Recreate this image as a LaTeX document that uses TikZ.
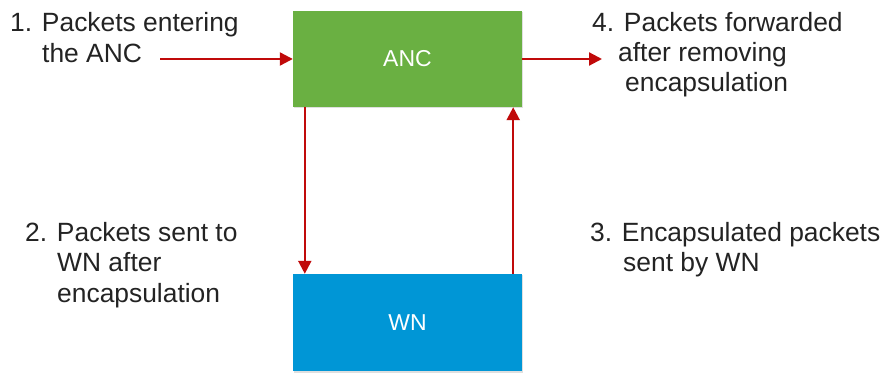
\documentclass[tikz,border=0pt]{standalone}
\usepackage{fontspec}
\setmainfont{Liberation Sans}
\usetikzlibrary{arrows.meta,shadows,calc}
\definecolor{ancgreen}{RGB}{106,176,66}
\definecolor{wnblue}{RGB}{0,150,214}
\definecolor{flowred}{RGB}{192,10,10}
\definecolor{labeltext}{RGB}{35,35,35}
\tikzset{
  unitbox/.style={draw=none, minimum width=229pt, inner sep=0pt,
    font=\fontsize{23}{27}\selectfont, text=white,
    drop shadow={shadow xshift=1pt, shadow yshift=-1.5pt, opacity=0.25}},
  flow/.style={draw=flowred, line width=2.2pt,
    -{Triangle[length=13pt,width=13pt]}},
  caption/.style={anchor=base west, inner sep=0pt, text=labeltext,
    font=\fontsize{26.4}{30}\selectfont},
}
\begin{document}
\begin{tikzpicture}[x=1pt,y=-1pt]
  \useasboundingbox (0,0) rectangle (884,374);
  % the two units
  \node[unitbox, fill=ancgreen, minimum height=96pt] (anc) at (407.5,59) {ANC};
  \node[unitbox, fill=wnblue, minimum height=97pt] (wn) at (407.5,322.5) {WN};
  % packet flow
  \coordinate (in) at (160,59);
  \coordinate (out) at (602,59);
  \draw[flow] (in) -- (anc.west);
  \draw[flow] (anc.east) -- (out);
  \draw[flow] ($(anc.south west)+(12,0)$) -- ($(wn.north west)+(12,0)$);
  \draw[flow] ($(wn.north east)+(-9,0)$) -- ($(anc.south east)+(-9,0)$);
  % step captions
  \node[caption] (c1a) at (10,32) {1. Packets entering};
  \node[caption] (c1b) at (42,63) {the ANC};
  \node[caption] (c2a) at (25,242) {2. Packets sent to};
  \node[caption] (c2b) at (57,272) {WN after};
  \node[caption] (c2c) at (57,302) {encapsulation};
  \node[caption] (c3a) at (590,242) {3. Encapsulated packets};
  \node[caption] (c3b) at (623,272) {sent by WN};
  \node[caption] (c4a) at (592,32) {4. Packets forwarded};
  \node[caption] (c4b) at (618,62) {after removing};
  \node[caption] (c4c) at (625,92) {encapsulation};
\end{tikzpicture}
\end{document}
